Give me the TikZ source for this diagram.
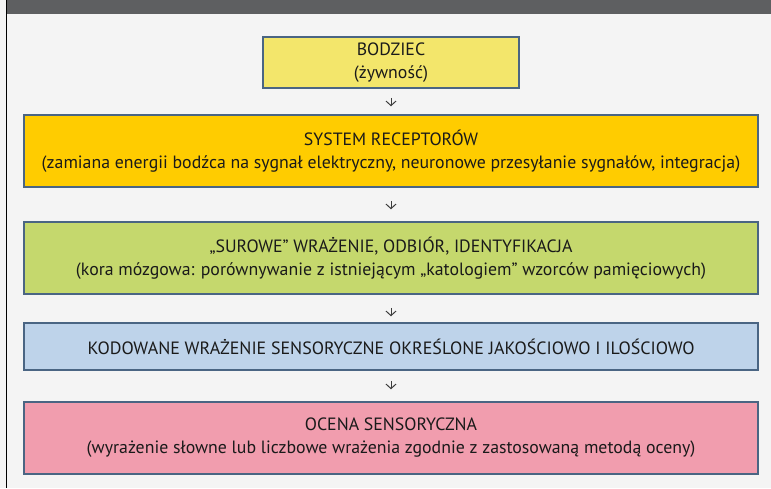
\documentclass[tikz,border=0pt]{standalone}
\usepackage{fontspec}
\usepackage{graphicx}
\setmainfont{PT Sans}
\usetikzlibrary{arrows.meta}
\definecolor{bgc}{HTML}{F4F4F4}
\definecolor{barc}{HTML}{5E5F61}
\definecolor{edgec}{HTML}{4A6583}
\definecolor{yelc}{HTML}{F3E66B}
\definecolor{orac}{HTML}{FFCC00}
\definecolor{grec}{HTML}{C5D86D}
\definecolor{bluc}{HTML}{BED3EA}
\definecolor{pinc}{HTML}{F19DAE}
\definecolor{txtc}{HTML}{1A1A1A}
\tikzset{
  stage/.style={draw=edgec, line width=1.5pt, align=center, inner sep=0pt,
    text=txtc, font=\fontsize{17.8}{23}\selectfont, minimum width=734pt, minimum height=72pt},
  flow/.style={draw=txtc!85, line width=1pt, -{Straight Barb[length=4.5pt,width=10pt]}}
}
\begin{document}
\begin{tikzpicture}[x=1pt,y=-1pt]
\useasboundingbox (0,0) rectangle (771,488);
\fill[bgc] (0,0) rectangle (771,488);
\fill[barc] (6,0) rectangle (771,14);
\draw[black, line width=1.3pt] (6.5,0) -- (6.5,488);
\node[stage, fill=yelc, minimum width=256pt, minimum height=51pt] (b1) at (391,62.5) {BODZIEC\\(żywność)};
\node[stage, fill=orac] (b2) at (391,151) {SYSTEM RECEPTORÓW\\(zamiana energii bodźca na sygnał elektryczny, neuronowe przesyłanie sygnałów, integracja)};
\node[stage, fill=grec] (b3) at (391,258) {„SUROWE” WRAŻENIE, ODBIÓR, IDENTYFIKACJA\\(kora mózgowa: porównywanie z istniejącym „katologiem” wzorców pamięciowych)};
\node[stage, fill=bluc, minimum height=47pt] (b4) at (391,346.5) {\resizebox{607pt}{\height}{KODOWANE WRAŻENIE SENSORYCZNE OKREŚLONE JAKOŚCIOWO I ILOŚCIOWO}};
\node[stage, fill=pinc] (b5) at (391,438) {OCENA SENSORYCZNA\\(wyrażenie słowne lub liczbowe wrażenia zgodnie z zastosowaną metodą oceny)};
\draw[flow, shorten <=9pt, shorten >=8pt] (b1.south) -- (b2.north);
\draw[flow, shorten <=13pt, shorten >=12pt] (b2.south) -- (b3.north);
\draw[flow, shorten <=13pt, shorten >=6pt] (b3.south) -- (b4.north);
\draw[flow, shorten <=10pt, shorten >=12pt] (b4.south) -- (b5.north);
\end{tikzpicture}
\end{document}
